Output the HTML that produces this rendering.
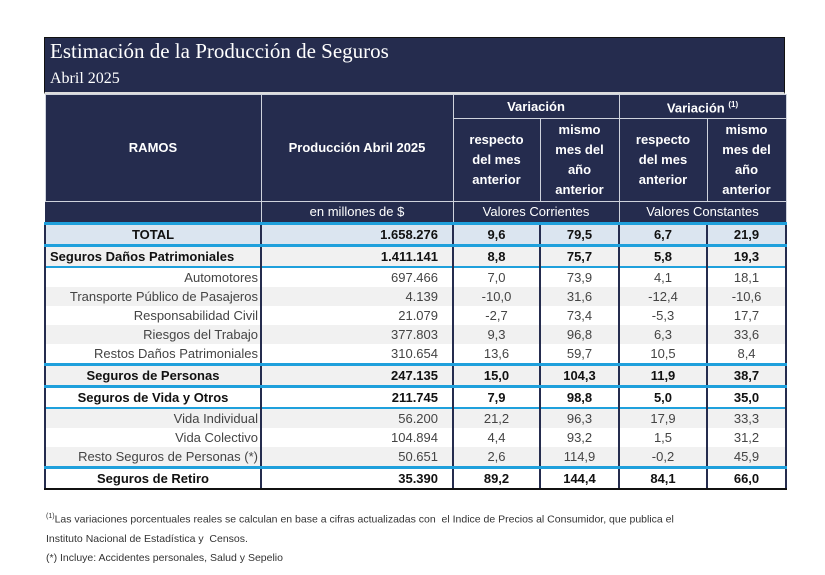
<!DOCTYPE html>
<html><head><meta charset="utf-8">
<style>
body{margin:0;width:825px;height:575px;background:#fff;position:relative;font-family:"Liberation Sans",sans-serif;overflow:hidden}
#wrap{position:absolute;left:44px;top:37px;width:741px}
#title{background:#252c4e;color:#fff;height:55px;border:1px solid #111;border-bottom:2px solid #ddd;font-family:"Liberation Serif",serif;position:relative;box-sizing:border-box;height:57px}
#title .t1{position:absolute;left:5px;top:1px;font-size:21px}
#title .t2{position:absolute;left:5px;top:32px;font-size:16px}
table{border-collapse:collapse;table-layout:fixed;width:741px;font-size:13px}
th{background:#252c4e;color:#fff;border:1px solid #cfd3dc;font-weight:bold;text-align:center;padding:0;line-height:20px}
th.w{padding:0 10px}
th.sub{font-weight:normal}
td{border-left:2px solid #252c4e;border-right:2px solid #252c4e;height:19px;line-height:19px;padding:0 4px;color:#444;text-align:center}
td.n{text-align:right;padding-right:14px}
td.l{text-align:right;padding-right:2px}
tr.g td{background:#f1f1f1}
tr.b td{font-weight:bold;color:#111}
tr.tot td{background:#dbe5f0}
tr.bt td{border-top:3px solid #1fa0dc}
tr.bt2 td{border-top:2px solid #1fa0dc}
tr.last td{border-bottom:2px solid #111}
#notes{position:absolute;left:46px;top:507px;font-size:10.5px;color:#333;line-height:19px}
</style></head><body>
<div id="wrap">
<div id="title"><span class="t1">Estimación de la Producción de Seguros</span><span class="t2">Abril 2025</span></div>
<table>
<colgroup><col style="width:216px"><col style="width:192px"><col style="width:87px"><col style="width:79px"><col style="width:88px"><col style="width:79px"></colgroup>
<tr style="height:21px"><th rowspan="2">RAMOS</th><th rowspan="2">Producción Abril 2025</th><th colspan="2">Variación</th><th colspan="2">Variación <sup style="font-size:8px">(1)</sup></th></tr>
<tr style="height:83px"><th class="w">respecto del mes anterior</th><th class="w">mismo mes del año anterior</th><th class="w">respecto del mes anterior</th><th class="w">mismo mes del año anterior</th></tr>
<tr style="height:22px"><th class="sub" style="border-left-color:#252c4e"></th><th class="sub">en millones de $</th><th class="sub" colspan="2">Valores Corrientes</th><th class="sub" colspan="2">Valores Constantes</th></tr>
<tr class="b tot bt"><td>TOTAL</td><td class="n">1.658.276</td><td>9,6</td><td>79,5</td><td>6,7</td><td>21,9</td></tr>
<tr class="b g bt"><td style="text-align:left">Seguros Daños Patrimoniales</td><td class="n">1.411.141</td><td>8,8</td><td>75,7</td><td>5,8</td><td>19,3</td></tr>
<tr class="bt2"><td class="l">Automotores</td><td class="n">697.466</td><td>7,0</td><td>73,9</td><td>4,1</td><td>18,1</td></tr>
<tr class="g"><td class="l">Transporte Público de Pasajeros</td><td class="n">4.139</td><td>-10,0</td><td>31,6</td><td>-12,4</td><td>-10,6</td></tr>
<tr><td class="l">Responsabilidad Civil</td><td class="n">21.079</td><td>-2,7</td><td>73,4</td><td>-5,3</td><td>17,7</td></tr>
<tr class="g"><td class="l">Riesgos del Trabajo</td><td class="n">377.803</td><td>9,3</td><td>96,8</td><td>6,3</td><td>33,6</td></tr>
<tr><td class="l">Restos Daños Patrimoniales</td><td class="n">310.654</td><td>13,6</td><td>59,7</td><td>10,5</td><td>8,4</td></tr>
<tr class="b g bt"><td>Seguros de Personas</td><td class="n">247.135</td><td>15,0</td><td>104,3</td><td>11,9</td><td>38,7</td></tr>
<tr class="b bt"><td>Seguros de Vida y Otros</td><td class="n">211.745</td><td>7,9</td><td>98,8</td><td>5,0</td><td>35,0</td></tr>
<tr class="g bt2"><td class="l">Vida Individual</td><td class="n">56.200</td><td>21,2</td><td>96,3</td><td>17,9</td><td>33,3</td></tr>
<tr><td class="l">Vida Colectivo</td><td class="n">104.894</td><td>4,4</td><td>93,2</td><td>1,5</td><td>31,2</td></tr>
<tr class="g"><td class="l">Resto Seguros de Personas (*)</td><td class="n">50.651</td><td>2,6</td><td>114,9</td><td>-0,2</td><td>45,9</td></tr>
<tr class="b bt last"><td>Seguros de Retiro</td><td class="n">35.390</td><td>89,2</td><td>144,4</td><td>84,1</td><td>66,0</td></tr>
</table>
</div>
<div id="notes">
<div><sup style="font-size:7px">(1)</sup>Las variaciones porcentuales reales se calculan en base a cifras actualizadas con &nbsp;el Indice de Precios al Consumidor, que publica el</div>
<div>Instituto Nacional de Estadística y &nbsp;Censos.</div>
<div>(*) Incluye: Accidentes personales, Salud y Sepelio</div>
</div>
</body></html>
